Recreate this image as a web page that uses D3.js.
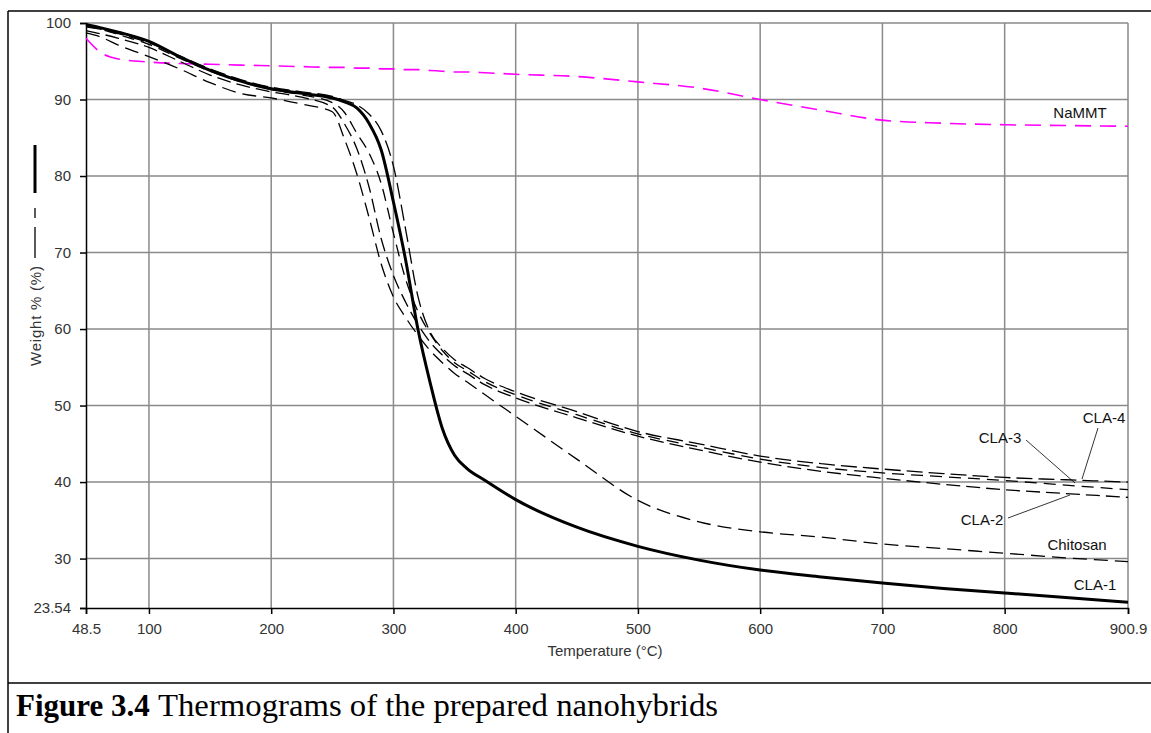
<!DOCTYPE html>
<html>
<head>
<meta charset="utf-8">
<script src="https://cdnjs.cloudflare.com/ajax/libs/d3/7.8.5/d3.min.js"></script>
<style>
  body { margin: 0; background: #fff; }
  svg { display: block; }
</style>
</head>
<body>
<div id="chart"></div>
<script>
// sampled temperatures (°C) shared by all curves
const temps = [48.5, 60, 75, 100, 125, 150, 175, 200, 225, 250, 260, 270, 280, 290, 300, 310,
  320, 330, 340, 350, 360, 375, 400, 450, 500, 550, 600, 650, 700, 750, 800, 850, 900.9];

// weight %
const naMMT = [98.0, 96.2, 95.3, 94.9, 94.7, 94.6, 94.5, 94.4, 94.3, 94.2, 94.2, 94.1, 94.1, 94.0, 94.0, 93.9,
  93.9, 93.8, 93.7, 93.6, 93.6, 93.5, 93.3, 93.0, 92.3, 91.5, 90.0, 88.6, 87.3, 86.9, 86.7, 86.6, 86.5];
const cla1 = [99.8, 99.4, 98.8, 97.6, 95.6, 93.8, 92.4, 91.4, 90.8, 90.2, 89.7, 88.9, 86.9, 83.4, 76.6, 69.0,
  60.0, 53.0, 47.0, 43.5, 41.8, 40.2, 37.7, 34.1, 31.6, 29.8, 28.5, 27.6, 26.8, 26.1, 25.5, 24.9, 24.3];
const chitosan = [98.7, 98.2, 97.1, 95.6, 94.0, 92.2, 90.8, 90.2, 89.4, 88.4, 84.8, 80.3, 74.6, 68.5, 64.2, 61.5,
  59.2, 57.2, 55.6, 54.2, 53.1, 51.4, 48.6, 43.0, 37.6, 34.8, 33.5, 32.8, 31.9, 31.3, 30.7, 30.1, 29.6];
const cla2 = [99.0, 98.6, 98.0, 96.8, 95.0, 93.2, 91.9, 91.0, 90.3, 89.0, 86.8, 83.6, 78.6, 71.8, 67.0, 63.5,
  60.6, 58.3, 56.6, 55.2, 54.2, 52.7, 51.0, 48.4, 46.0, 44.2, 42.6, 41.4, 40.5, 39.7, 39.0, 38.5, 38.0];
const cla3 = [99.6, 99.2, 98.5, 97.2, 95.4, 93.7, 92.3, 91.3, 90.6, 89.6, 88.3, 85.6, 83.0, 79.0, 72.5, 66.5,
  62.3, 59.4, 57.2, 55.6, 54.6, 53.1, 51.4, 48.8, 46.3, 44.6, 43.0, 41.9, 41.2, 40.7, 40.2, 39.6, 39.0];
const cla4 = [99.5, 99.2, 98.6, 97.4, 95.7, 94.0, 92.6, 91.6, 91.0, 90.4, 89.9, 89.3, 88.1, 85.9, 81.3, 73.0,
  64.3, 59.6, 57.5, 56.0, 55.0, 53.5, 51.8, 49.2, 46.6, 45.0, 43.4, 42.4, 41.7, 41.1, 40.6, 40.3, 40.0];

const xTicks = [48.5, 100, 200, 300, 400, 500, 600, 700, 800, 900.9];
const yTicks = [23.54, 30, 40, 50, 60, 70, 80, 90, 100];

const W = 1151, H = 733;
const sans = "Liberation Sans, Arial, sans-serif";
const svg = d3.select("#chart").append("svg")
    .attr("width", W)
    .attr("height", H);

// figure frame
svg.append("line").attr("x1", 8).attr("y1", 11).attr("x2", W).attr("y2", 11)
    .attr("stroke", "#000").attr("stroke-width", 1.5);
svg.append("line").attr("x1", 8).attr("y1", 11).attr("x2", 8).attr("y2", H)
    .attr("stroke", "#000").attr("stroke-width", 1.5);
svg.append("line").attr("x1", 8).attr("y1", 683).attr("x2", W).attr("y2", 683)
    .attr("stroke", "#000").attr("stroke-width", 1.5);

const x = d3.scaleLinear().domain([48.5, 900.9]).range([86, 1128]);
const y = d3.scaleLinear().domain([23.54, 100]).range([608, 23]);

// grid
const grid = svg.append("g").attr("stroke", "#8a8a8a").attr("stroke-width", 1.5);
grid.selectAll(".gy").data(yTicks.filter(d => d > 25)).enter().append("line")
    .attr("x1", x(48.5)).attr("x2", x(900.9))
    .attr("y1", d => y(d)).attr("y2", d => y(d));
grid.selectAll(".gx").data(xTicks.filter(d => d > 50)).enter().append("line")
    .attr("x1", d => x(d)).attr("x2", d => x(d))
    .attr("y1", y(100)).attr("y2", y(23.54));

// axes
const yAxis = svg.append("g")
    .attr("transform", "translate(" + x(48.5) + ",0)")
    .call(d3.axisLeft(y).tickValues(yTicks).tickSize(6).tickPadding(9)
        .tickFormat(d => d === 23.54 ? "23.54" : d));
const xAxis = svg.append("g")
    .attr("transform", "translate(0," + y(23.54) + ")")
    .call(d3.axisBottom(x).tickValues(xTicks).tickSize(6).tickPadding(9)
        .tickFormat(d => d.toString()));

[yAxis, xAxis].forEach(a => {
    a.select(".domain").attr("stroke", "#000").attr("stroke-width", 1.5);
    a.selectAll(".tick line").attr("stroke", "#000").attr("stroke-width", 1.5);
    a.selectAll(".tick text")
        .attr("font-family", sans)
        .attr("font-size", 15)
        .attr("fill", "#333");
});

svg.append("text")
    .attr("x", 605).attr("y", 656)
    .attr("text-anchor", "middle")
    .attr("font-family", sans)
    .attr("font-size", 15)
    .attr("fill", "#333")
    .text("Temperature (°C)");

// y label with line key
svg.append("text")
    .attr("transform", "translate(41,316) rotate(-90)")
    .attr("text-anchor", "middle")
    .attr("font-family", sans)
    .attr("font-size", 15)
    .attr("fill", "#333")
    .attr("textLength", 100)
    .attr("lengthAdjust", "spacing")
    .text("Weight % (%)");
svg.append("line").attr("x1", 35).attr("x2", 35).attr("y1", 145).attr("y2", 193)
    .attr("stroke", "#000").attr("stroke-width", 3);
svg.append("line").attr("x1", 35).attr("x2", 35).attr("y1", 208).attr("y2", 218)
    .attr("stroke", "#000").attr("stroke-width", 1.3);
svg.append("line").attr("x1", 35).attr("x2", 35).attr("y1", 227).attr("y2", 258)
    .attr("stroke", "#000").attr("stroke-width", 1.3);

// curves
const line = d3.line()
    .x(d => x(d[0]))
    .y(d => y(d[1]))
    .curve(d3.curveMonotoneX);

const series = [
    {vals: naMMT, color: "#ff00ff", width: 1.6, dash: "16,9"},
    {vals: chitosan, color: "#000", width: 1.3, dash: "14,7"},
    {vals: cla2, color: "#000", width: 1.3, dash: "14,6"},
    {vals: cla3, color: "#000", width: 1.3, dash: "12,7"},
    {vals: cla4, color: "#000", width: 1.3, dash: "16,6"},
    {vals: cla1, color: "#000", width: 3, dash: null}
];

svg.selectAll(".curve").data(series).enter().append("path")
    .attr("class", "curve")
    .attr("d", s => line(temps.map((t, i) => [t, s.vals[i]])))
    .attr("fill", "none")
    .attr("stroke", s => s.color)
    .attr("stroke-width", s => s.width)
    .attr("stroke-dasharray", s => s.dash);

// curve labels
const labels = [
    {t: "NaMMT", x: 1080, y: 118},
    {t: "CLA-4", x: 1104, y: 423},
    {t: "CLA-3", x: 1000, y: 443},
    {t: "CLA-2", x: 982, y: 525},
    {t: "Chitosan", x: 1077, y: 550},
    {t: "CLA-1", x: 1095, y: 590}
];
svg.selectAll(".lbl").data(labels).enter().append("text")
    .attr("x", d => d.x).attr("y", d => d.y)
    .attr("text-anchor", "middle")
    .attr("font-family", sans)
    .attr("font-size", 15)
    .attr("fill", "#111")
    .text(d => d.t);

// leader lines
const leaders = [
    [1098, 428, 1082, 479],
    [1026, 440, 1075, 483],
    [1008, 518, 1070, 495]
];
svg.selectAll(".lead").data(leaders).enter().append("line")
    .attr("x1", d => d[0]).attr("y1", d => d[1])
    .attr("x2", d => d[2]).attr("y2", d => d[3])
    .attr("stroke", "#000").attr("stroke-width", 0.8);

// caption
const serif = "Liberation Serif, Times New Roman, serif";
svg.append("text")
    .attr("x", 16).attr("y", 716)
    .attr("font-family", serif)
    .attr("font-size", 31)
    .attr("font-weight", "bold")
    .attr("fill", "#000")
    .text("Figure 3.4");
svg.append("text")
    .attr("x", 158).attr("y", 716)
    .attr("font-family", serif)
    .attr("font-size", 31)
    .attr("fill", "#000")
    .attr("textLength", 560)
    .attr("lengthAdjust", "spacingAndGlyphs")
    .text("Thermograms of the prepared nanohybrids");
</script>
</body>
</html>
